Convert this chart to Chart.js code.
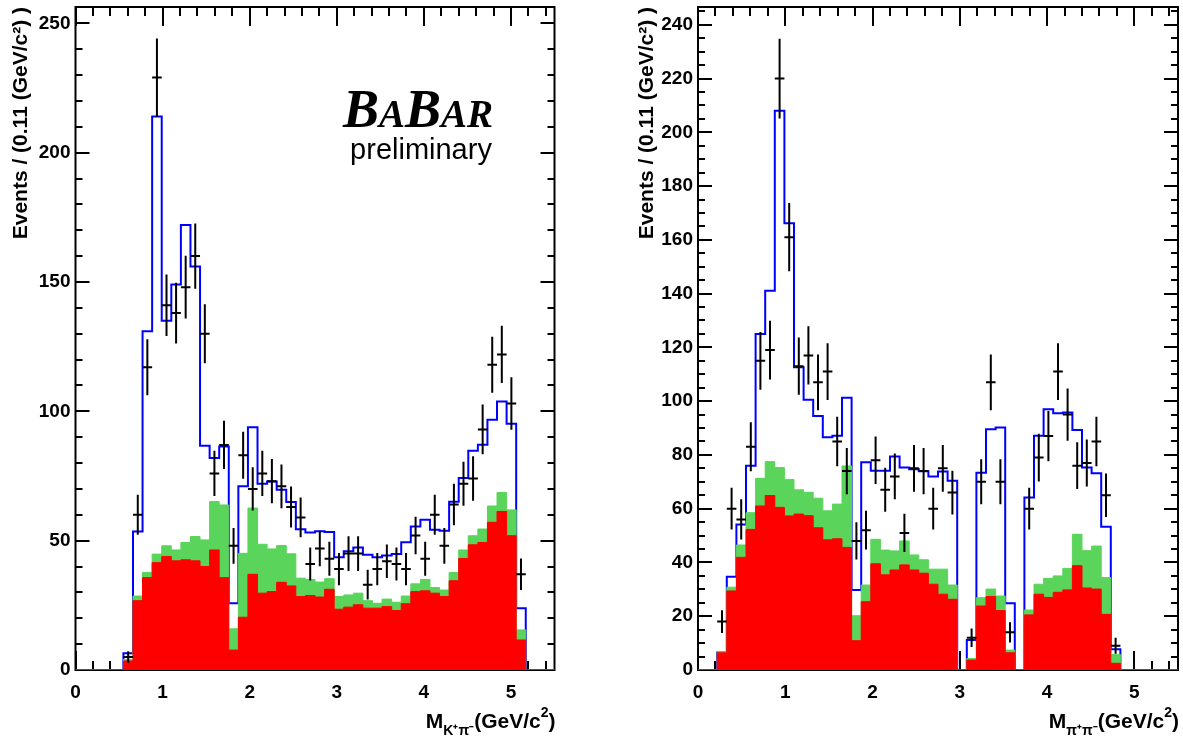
<!DOCTYPE html>
<html>
<head>
<meta charset="utf-8">
<script src="https://cdn.jsdelivr.net/npm/chart.js@4.4.1/dist/chart.umd.min.js"></script>
<style>
  html, body { margin: 0; padding: 0; background: #fff; }
  #wrap { position: relative; width: 1183px; height: 738px; overflow: hidden; }
  #chartKpi { position: absolute; left: 0; top: 0; }
  #chartPipi { position: absolute; left: 610px; top: 0; }
</style>
</head>
<body>
<div id="wrap">
  <canvas id="chartKpi" width="590" height="738"></canvas>
  <canvas id="chartPipi" width="573" height="738"></canvas>
</div>
<script>
// bin low edges, 0.11 GeV/c^2 wide
const binLow = [0.00, 0.11, 0.22, 0.33, 0.44, 0.55, 0.66, 0.77, 0.88, 0.99,
                1.10, 1.21, 1.32, 1.43, 1.54, 1.65, 1.76, 1.87, 1.98, 2.09,
                2.20, 2.31, 2.42, 2.53, 2.64, 2.75, 2.86, 2.97, 3.08, 3.19,
                3.30, 3.41, 3.52, 3.63, 3.74, 3.85, 3.96, 4.07, 4.18, 4.29,
                4.40, 4.51, 4.62, 4.73, 4.84, 4.95, 5.06, 5.17, 5.28, 5.39];
const BIN_W = 0.11;
const MASS_MAX = 5.5;
const massTicks = [0, 1, 2, 3, 4, 5];

// K+ pi- mass (left)
const kpiCounts = [null, null, null, null, null, 5, 60, 117, 229, 141,
                   138, 148, 160, 130, 76, 87, 48, 83, 70, 76,
                   73, 71, 63, 59, 41, 47, 43, 39, 45, 45,
                   33, 39, 42, 41, 39, 52, 43, 60, 48, 64,
                   72, 74, 93, 118, 122, 103, 37, null, null, null];
const kpiFit = [0, 0, 0, 0, 0, 6.5, 53.5, 131, 214, 135,
                149, 172, 156, 86.7, 82, 86.4, 25.8, 71, 93.8, 72,
                72.9, 69.7, 64.9, 54.4, 53.2, 53.6, 53.3, 43.6, 45.9, 47.4,
                44.6, 43.6, 44.3, 44.8, 49.4, 55.5, 58.1, 54.2, 53.8, 65,
                74.2, 84.8, 87.1, 96.7, 103.8, 95.2, 23.9, 0, 0, 0];
const kpiGreen = [0, 0, 0, 0, 0, 4.1, 28.6, 37.7, 44.8, 48,
                  46.4, 49.3, 51.6, 50.3, 65.1, 63.8, 15.9, 45.1, 62.6, 48.6,
                  46.8, 48.1, 44.9, 35.5, 35.0, 34.0, 35.3, 28.4, 29.0, 29.7,
                  26.8, 25.8, 27.4, 26.2, 28.6, 33.3, 35.0, 31.9, 30.9, 37.7,
                  46.4, 51.9, 54.5, 63.4, 68.6, 61.9, 15.5, 0, 0, 0];
const kpiRed = [0, 0, 0, 0, 0, 3.5, 26.8, 35.7, 41.5, 43.9,
                42.2, 42.6, 42.2, 40, 46.4, 35.7, 7.7, 20.4, 37, 29.7,
                30.3, 33.9, 32.5, 28.4, 28.8, 28.2, 31.2, 23.5, 24.3, 25.2,
                23.9, 23.9, 24.5, 23.0, 25.6, 30.3, 30.6, 29.7, 28.4, 34.5,
                43.1, 48.4, 49.3, 57.1, 61.3, 51.9, 11.6, 0, 0, 0];
const kpiYTicks = [0, 50, 100, 150, 200, 250];

// pi+ pi- mass (right)
const pipiCounts = [null, null, 18, 60, 56, 83, 115, 119, 220, 161,
                    113, 117, 107, 111, 85, 74, 48, 52, 78, 67,
                    72, 51, 75, 74, 60, 75, 66, null, 12, 70,
                    107, 70, 14, null, 60, 79, 87, 111, 95, 76,
                    77, 85, 65, 9, null, null, null, null, null, null];
const pipiFit = [0, 0, 6.5, 34.7, 54.1, 76, 125, 141.1, 208, 166.2,
                 112.6, 100.5, 94.5, 86.6, 87.1, 101.3, 29.8, 77.3, 74.1, 74.1,
                 79.4, 75.3, 74.7, 73.9, 72, 73.8, 70.4, 0, 11.2, 73.4,
                 89.5, 90.2, 24.8, 0, 64.2, 87.1, 97, 95.5, 95.8, 89.3,
                 75.3, 73.2, 53.3, 7.7, 0, 0, 0, 0, 0, 0];
const pipiGreen = [0, 0, 6.8, 30.8, 46.5, 58.5, 71.3, 77.5, 75.3, 70.9,
                   67, 66.1, 63.9, 59.2, 61.7, 75.9, 20.2, 31.6, 48.6, 44.6,
                   44.3, 48, 42.8, 41, 37.5, 37.5, 31.6, 0, 4.3, 26.9,
                   30.1, 27.5, 7.4, 0, 22.3, 31.9, 34.1, 35, 37.8, 50.5,
                   44.4, 46.1, 34.4, 5.8, 0, 0, 0, 0, 0, 0];
const pipiRed = [0, 0, 6.4, 29.4, 41.9, 52.3, 61, 64.9, 60.5, 57.3,
                 58, 57.4, 52.9, 48.4, 48.8, 45.6, 10.9, 25.4, 39.5, 35.4,
                 37.2, 39.1, 37.2, 36, 31.9, 28.2, 26.3, 0, 3.7, 23.8,
                 27.3, 22.1, 6.4, 0, 20.5, 28.2, 27, 28.9, 29.8, 38.8,
                 30.5, 30.1, 20.7, 2.5, 0, 0, 0, 0, 0, 0];
const pipiYTicks = [0, 20, 40, 60, 80, 100, 120, 140, 160, 180, 200, 220, 240];

const RED = '#ff0000';
const GREEN = 'rgb(90,212,90)';
const BLUE = '#0000ff';
const FONT = '"Liberation Sans", Arial, Helvetica, sans-serif';

Chart.defaults.font.family = FONT;
Chart.defaults.color = '#000';

function histPoints(values) {
    let pts = binLow.map((x, i) => ({ x: x, y: values[i] }));
    pts.push({ x: MASS_MAX, y: values[values.length - 1] });
    return pts;
}

function dataPoints(counts) {
    let pts = [];
    for (let i = 0; i < counts.length; i++) {
        if (counts[i] === null) continue;
        pts.push({ x: binLow[i] + BIN_W / 2, y: counts[i] });
    }
    return pts;
}

// frame with ROOT-like inward ticks on all four sides
const rootFrame = {
    id: 'rootFrame',
    beforeDatasetsDraw(chart, args, opts) {
        const { ctx, chartArea: a, scales: { x, y } } = chart;
        ctx.save();
        ctx.strokeStyle = '#000';
        ctx.lineWidth = 2;
        ctx.beginPath();
        for (let k = 0; k * opts.yMinor <= y.max; k++) {
            const py = Math.round(y.getPixelForValue(k * opts.yMinor));
            const len = (k % opts.ySub === 0) ? opts.yMajorLen : opts.yMinorLen;
            ctx.moveTo(a.left, py); ctx.lineTo(a.left + len, py);
            ctx.moveTo(a.right, py); ctx.lineTo(a.right - len, py);
        }
        for (let k = 0; k * 0.2 <= x.max; k++) {
            const px = Math.round(x.getPixelForValue(k * 0.2));
            const len = (k % 5 === 0) ? 19 : 9;
            ctx.moveTo(px, a.top); ctx.lineTo(px, a.top + len);
            ctx.moveTo(px, a.bottom); ctx.lineTo(px, a.bottom - len);
        }
        ctx.stroke();
        ctx.strokeRect(a.left, a.top, a.right - a.left, a.bottom - a.top);
        ctx.restore();
    }
};

// data points with sqrt(N) error bars, bin-wide horizontal bars
const errorBars = {
    id: 'errorBars',
    afterDatasetsDraw(chart) {
        const { ctx, scales: { x, y } } = chart;
        const ds = chart.data.datasets[0];
        ctx.save();
        ctx.strokeStyle = '#000';
        ctx.lineWidth = 2;
        ctx.beginPath();
        ds.data.forEach(p => {
            const err = Math.sqrt(p.y);
            const px = x.getPixelForValue(p.x);
            const py = y.getPixelForValue(p.y);
            ctx.moveTo(x.getPixelForValue(p.x - BIN_W / 2), py);
            ctx.lineTo(x.getPixelForValue(p.x + BIN_W / 2), py);
            ctx.moveTo(px, y.getPixelForValue(p.y - err));
            ctx.lineTo(px, y.getPixelForValue(p.y + err));
        });
        ctx.stroke();
        ctx.restore();
    }
};

// x-axis title with sub/superscripts, plus the BaBar mark
const massTitle = {
    id: 'massTitle',
    afterDraw(chart, args, opts) {
        const { ctx, chartArea: a } = chart;
        const parts = [
            { t: 'M', f: 'bold 21px ' + FONT, dy: 0 },
            { t: opts.sub, f: 'bold 14px ' + FONT, dy: 7 },
            { t: '(GeV/c', f: 'bold 21px ' + FONT, dy: 0 },
            { t: '2', f: 'bold 14px ' + FONT, dy: -11 },
            { t: ')', f: 'bold 21px ' + FONT, dy: 0 }
        ];
        ctx.save();
        ctx.fillStyle = '#000';
        ctx.textBaseline = 'alphabetic';
        let total = 0;
        parts.forEach(p => { ctx.font = p.f; p.w = ctx.measureText(p.t).width; total += p.w; });
        let cx = a.right + 1 - total;
        parts.forEach(p => { ctx.font = p.f; ctx.fillText(p.t, cx, 728 + p.dy); cx += p.w; });

        if (opts.logo) {
            const big = 'italic bold 54px "Liberation Serif", "Times New Roman", serif';
            const small = 'italic bold 39px "Liberation Serif", "Times New Roman", serif';
            const logo = [{ t: 'B', f: big }, { t: 'A', f: small }, { t: 'B', f: big }, { t: 'AR', f: small }];
            let lx = 343;
            logo.forEach(p => { ctx.font = p.f; ctx.fillText(p.t, lx, 127); lx += ctx.measureText(p.t).width; });
            ctx.font = '29px ' + FONT;
            ctx.textAlign = 'center';
            ctx.fillText('preliminary', 421, 159);
        }
        ctx.restore();
    }
};

function makeChart(id, cfg) {
    return new Chart(document.getElementById(id), {
        type: 'line',
        data: {
            datasets: [
                { label: 'Data', data: dataPoints(cfg.counts), showLine: false, pointRadius: 0, borderColor: '#000' },
                { label: 'red', data: histPoints(cfg.red), stepped: 'before', fill: 'origin',
                  backgroundColor: RED, borderColor: RED, borderWidth: 1, pointRadius: 0 },
                { label: 'green', data: histPoints(cfg.green), stepped: 'before', fill: 'origin',
                  backgroundColor: GREEN, borderColor: GREEN, borderWidth: 1, pointRadius: 0 },
                { label: 'fit', data: histPoints(cfg.fit), stepped: 'before', fill: false,
                  borderColor: BLUE, borderWidth: 2, pointRadius: 0 }
            ]
        },
        options: {
            responsive: false,
            animation: false,
            events: [],
            layout: { padding: { left: 0, right: cfg.padRight, top: 7, bottom: 0 } },
            plugins: {
                legend: { display: false },
                tooltip: { enabled: false },
                rootFrame: { yMinor: cfg.yMinor, ySub: cfg.ySub, yMajorLen: 14, yMinorLen: 7 },
                massTitle: { sub: cfg.sub, logo: cfg.logo }
            },
            scales: {
                x: {
                    type: 'linear',
                    min: 0,
                    max: MASS_MAX,
                    afterBuildTicks: s => { s.ticks = massTicks.map(v => ({ value: v })); },
                    afterFit: s => { s.height = 68; s.paddingLeft = 0; s.paddingRight = 0; },
                    grid: { display: false, drawTicks: false },
                    border: { display: false },
                    ticks: { font: { size: 19, weight: 'bold' }, padding: 11, maxRotation: 0, autoSkip: false }
                },
                y: {
                    min: 0,
                    max: cfg.yMax,
                    afterBuildTicks: s => { s.ticks = cfg.yTicks.map(v => ({ value: v })); },
                    afterFit: s => { s.width = cfg.yWidth; s.paddingTop = 0; s.paddingBottom = 0; },
                    grid: { display: false, drawTicks: false },
                    border: { display: false },
                    ticks: { font: { size: 19, weight: 'bold' }, padding: 5, autoSkip: false },
                    title: {
                        display: true,
                        text: 'Events / (0.11 (GeV/c²) )',
                        align: 'end',
                        font: { size: 21, weight: 'bold' },
                        padding: { top: cfg.titlePad, bottom: 0 }
                    }
                }
            }
        },
        plugins: [rootFrame, errorBars, massTitle]
    });
}

let chartKpi = makeChart('chartKpi', {
    counts: kpiCounts, fit: kpiFit, green: kpiGreen, red: kpiRed,
    yTicks: kpiYTicks, yMax: 256.3, yMinor: 10, ySub: 5,
    yWidth: 75.5, padRight: 35.5, titlePad: 9, sub: 'K⁺π⁻', logo: true
});
let chartPipi = makeChart('chartPipi', {
    counts: pipiCounts, fit: pipiFit, green: pipiGreen, red: pipiRed,
    yTicks: pipiYTicks, yMax: 246.6, yMinor: 5, ySub: 4,
    yWidth: 88, padRight: 5, titlePad: 25, sub: 'π⁺π⁻', logo: false
});
</script>
</body>
</html>
